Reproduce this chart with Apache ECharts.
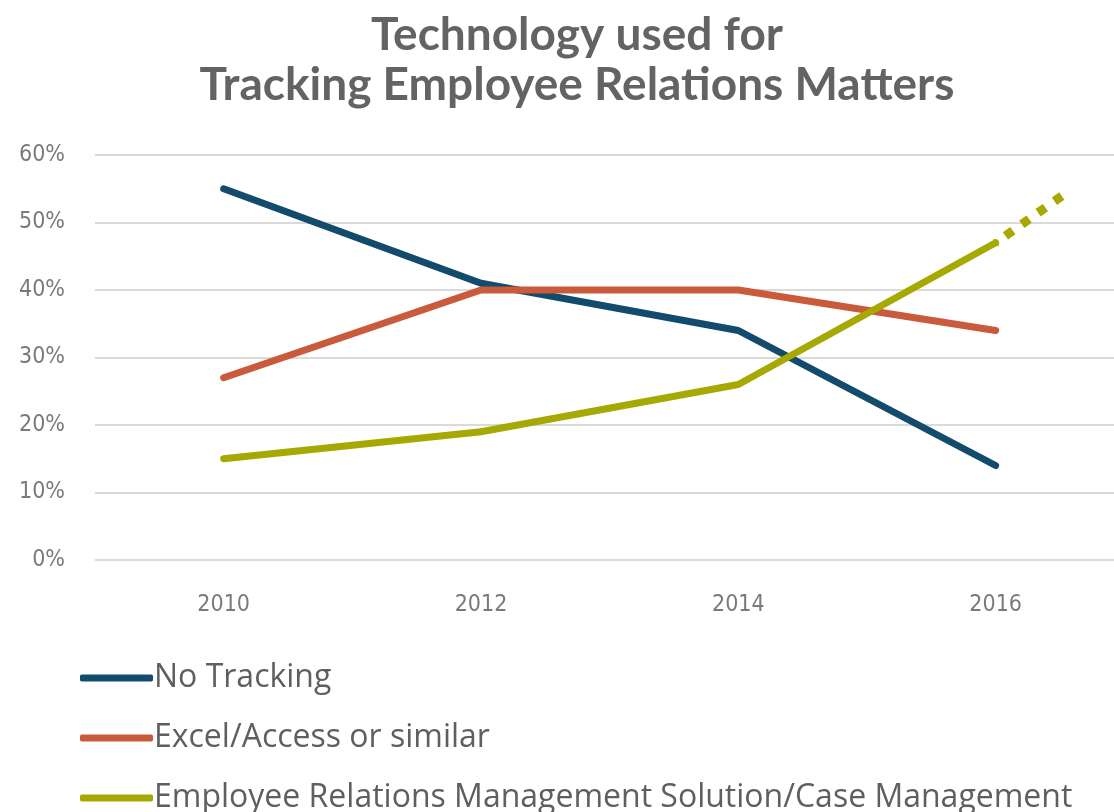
<!DOCTYPE html>
<html>
<head>
<meta charset="utf-8">
<script src="https://cdn.jsdelivr.net/npm/echarts@6/dist/echarts.min.js"></script>
<style>
  html, body { margin: 0; padding: 0; background: #fff; }
  #chart-container { width: 1114px; height: 812px; }
</style>
</head>
<body>
<div id="chart-container"></div>
<script>
// data
const years = [2010, 2012, 2014, 2016]
const noTracking = [55, 41, 34, 14]
const excelAccess = [27, 40, 40, 34]
const ermSolution = [15, 19, 26, 47]
// projected part of the ERM line (dotted)
const projYears = [2016, 2016.52]
const projValues = [47, 54]
const yTicks = [0, 10, 20, 30, 40, 50, 60]

const seriesNames = ['No Tracking', 'Excel/Access or similar', 'Employee Relations Management Solution/Case Management']
const colors = ['#134b6c', '#c95a3b', '#a6a902']
const axisFont = "'DejaVu Sans Condensed', Roboto, sans-serif"

const toPairs = (xs, ys) => xs.map((x, i) => [x, ys[i]])

const createChart = () => {
    var dom = document.getElementById('chart-container');
    var myChart = echarts.init(dom, null, { renderer: 'canvas' });

    const lineSeries = (name, values, color) => ({
        name: name,
        type: 'line',
        data: toPairs(years, values),
        showSymbol: false,
        symbol: 'none',
        itemStyle: { color: color },
        lineStyle: { color: color, width: 7, cap: 'round', join: 'round' },
        z: 3
    })

    var option = {
        animation: false,
        backgroundColor: '#ffffff',
        title: {
            text: 'Technology used for\nTracking Employee Relations Matters',
            left: 572,
            textAlign: 'center',
            top: 5,
            textStyle: {
                fontFamily: 'Lato',
                fontWeight: 'bold',
                fontSize: 46,
                lineHeight: 50,
                color: '#636363'
            }
        },
        legend: {
            orient: 'vertical',
            left: 80,
            top: 661,
            height: 200,
            padding: 0,
            data: seriesNames,
            icon: 'roundRect',
            itemWidth: 73,
            itemHeight: 7,
            itemGap: 26,
            textStyle: {
                fontFamily: 'Open Sans',
                fontSize: 32,
                lineHeight: 34,
                color: '#5f5f5f',
                padding: [0, 0, 0, -4]
            }
        },
        grid: {
            left: 95,
            right: 0,
            top: 155,
            bottom: 252,
            outerBoundsMode: 'none',
            containLabel: false
        },
        xAxis: {
            type: 'value',
            min: 2009,
            max: 2016.92,
            interval: 1,
            axisLine: { show: false },
            axisTick: { show: false },
            splitLine: { show: false },
            axisLabel: {
                margin: 34,
                fontFamily: axisFont,
                fontSize: 23,
                color: '#7a7a7a',
                showMaxLabel: false,
                formatter: v => years.indexOf(v) >= 0 ? String(v) : ''
            }
        },
        yAxis: {
            type: 'value',
            min: yTicks[0],
            max: yTicks[yTicks.length - 1],
            interval: 10,
            axisLine: { show: false },
            axisTick: { show: false },
            splitLine: { lineStyle: { color: '#dadada', width: 2 } },
            axisLabel: {
                margin: 30,
                fontFamily: axisFont,
                fontSize: 23,
                color: '#7a7a7a',
                formatter: '{value}%'
            }
        },
        series: [
            lineSeries(seriesNames[0], noTracking, colors[0]),
            lineSeries(seriesNames[1], excelAccess, colors[1]),
            lineSeries(seriesNames[2], ermSolution, colors[2]),
            {
                name: 'projection',
                type: 'line',
                data: toPairs(projYears, projValues),
                showSymbol: false,
                symbol: 'none',
                lineStyle: {
                    color: colors[2],
                    width: 9,
                    type: [9, 11],
                    dashOffset: -12,
                    cap: 'butt'
                },
                z: 2
            }
        ]
    };
    myChart.setOption(option);
    window.addEventListener('resize', myChart.resize);
}

createChart()
</script>
</body>
</html>
